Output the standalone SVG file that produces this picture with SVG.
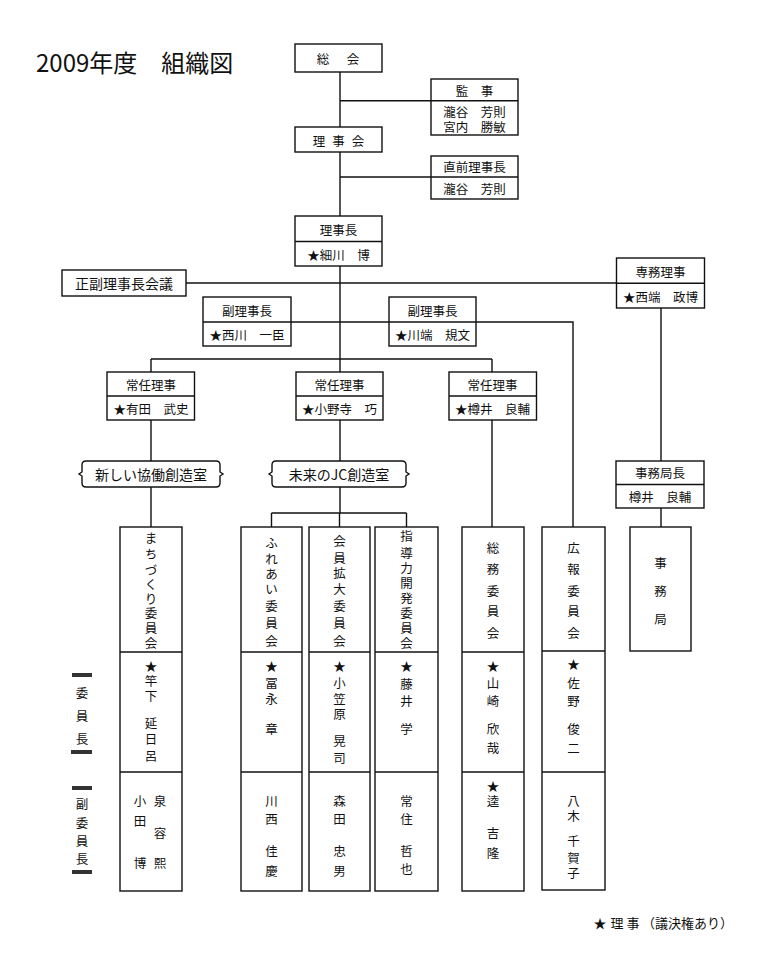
<svg xmlns="http://www.w3.org/2000/svg" width="767" height="980" viewBox="0 0 767 980">
<style>
text{font-family:"Noto Sans CJK JP","Noto Sans",sans-serif;fill:#111;text-anchor:middle;dominant-baseline:central}
.b{fill:#fff;stroke:#111;stroke-width:1.4}
.d{stroke:#111;stroke-width:1.4}
.c{stroke:#111;stroke-width:1.4;fill:none}
.t{font-size:12.5px}
.v{font-size:12.5px}
.r{font-size:14px}
.bar{fill:#333}
</style>
<rect width="767" height="980" fill="#fff"/>
<text x="36" y="61" style="font-size:24px;text-anchor:start">2009年度　組織図</text>

<g id="connectors" class="c">
<path d="M340 72V127M340 100.7H431M340 152V216M340 177H431M340 266V372"/>
<path d="M186 283H617"/>
<path d="M291 322H573V527"/>
<path d="M151 359H492M151 359V372M492 359V372"/>
<path d="M151 420V461M151 487V527"/>
<path d="M340 420V461M340 487V513M271.5 513H406.5M271.5 513V527M339.5 513V527M406.5 513V527"/>
<path d="M492 420V527"/>
<path d="M661 308V461M661 508V527"/>
</g>

<g id="soukai"><rect class="b" x="295" y="44" width="87" height="28"/><text class="t"><tspan x="323" y="58">総</tspan><tspan x="353" y="58">会</tspan></text></g>
<g id="kanji"><rect class="b" x="431" y="79" width="87" height="56"/><line class="d" x1="431" y1="100.7" x2="518" y2="100.7"/><text class="t" x="474.5" y="90">監　事</text><text class="t" x="474.5" y="111.5">瀧谷　芳則</text><text class="t" x="474.5" y="126">宮内　勝敏</text></g>
<g id="rijikai"><rect class="b" x="295" y="127" width="87" height="25"/><text class="t"><tspan x="319" y="140">理</tspan><tspan x="338.5" y="140">事</tspan><tspan x="358" y="140">会</tspan></text></g>
<g id="chokuzen"><rect class="b" x="431" y="156" width="87" height="43"/><line class="d" x1="431" y1="177" x2="518" y2="177"/><text class="t" x="474.5" y="166.5">直前理事長</text><text class="t" x="474.5" y="188">瀧谷　芳則</text></g>
<g id="rijicho"><rect class="b" x="295" y="216" width="87" height="50"/><line class="d" x1="295" y1="241.5" x2="382" y2="241.5"/><text class="t" x="338.5" y="229">理事長</text><text class="t" x="338.5" y="254">★細川　博</text></g>
<g id="seifuku"><rect class="b" x="62" y="270" width="124" height="26"/><text class="r" x="124" y="283">正副理事長会議</text></g>
<g id="senmu"><rect class="b" x="616.5" y="258" width="88" height="50"/><line class="d" x1="616.5" y1="283.3" x2="704.5" y2="283.3"/><text class="t" x="660.5" y="271">専務理事</text><text class="t" x="660.5" y="296">★西端　政博</text></g>
<g id="fuku1"><rect class="b" x="203" y="297" width="88" height="49"/><line class="d" x1="203" y1="322" x2="291" y2="322"/><text class="t" x="247" y="310">副理事長</text><text class="t" x="247" y="334">★西川　一臣</text></g>
<g id="fuku2"><rect class="b" x="389" y="297" width="87" height="49"/><line class="d" x1="389" y1="322" x2="476" y2="322"/><text class="t" x="432.5" y="310">副理事長</text><text class="t" x="432.5" y="334">★川端　規文</text></g>
<g id="jonin1"><rect class="b" x="107" y="372" width="87.5" height="48"/><line class="d" x1="107" y1="396" x2="194.5" y2="396"/><text class="t" x="151" y="384">常任理事</text><text class="t" x="151" y="408">★有田　武史</text></g>
<g id="jonin2"><rect class="b" x="296" y="372" width="87" height="48"/><line class="d" x1="296" y1="396" x2="383" y2="396"/><text class="t" x="339.5" y="384">常任理事</text><text class="t" x="339.5" y="408">★小野寺　巧</text></g>
<g id="jonin3"><rect class="b" x="449" y="372" width="87.5" height="48"/><line class="d" x1="449" y1="396" x2="536.5" y2="396"/><text class="t" x="492.5" y="384">常任理事</text><text class="t" x="492.5" y="408">★樽井　良輔</text></g>
<g id="room1"><path class="b" d="M86 461H216Q220 461 220 465V472L223 474L220 476V483Q220 487 216 487H86Q82 487 82 483V476L79 474L82 472V465Q82 461 86 461Z"/><text class="r" x="151" y="474">新しい協働創造室</text></g>
<g id="room2"><path class="b" d="M276 461H402Q406 461 406 465V472L409 474L406 476V483Q406 487 402 487H276Q272 487 272 483V476L269 474L272 472V465Q272 461 276 461Z"/><text class="r" x="339" y="474">未来のJC創造室</text></g>
<g id="jimukyokucho"><rect class="b" x="616" y="461" width="88" height="47"/><line class="d" x1="616" y1="484.5" x2="704" y2="484.5"/><text class="t" x="660" y="472.5">事務局長</text><text class="t" x="660" y="496">樽井　良輔</text></g>

<g id="machizukuri">
<rect class="b" x="120" y="527" width="62" height="364"/><line class="d" x1="120" y1="652" x2="182" y2="652"/><line class="d" x1="120" y1="772" x2="182" y2="772"/>
<text class="v"><tspan x="151" y="537">ま</tspan><tspan x="151" y="553">ち</tspan><tspan x="151" y="569">づ</tspan><tspan x="151" y="583">く</tspan><tspan x="151" y="598">り</tspan><tspan x="151" y="612">委</tspan><tspan x="151" y="627">員</tspan><tspan x="151" y="642">会</tspan></text>
<text class="v"><tspan x="151" y="665">★</tspan><tspan x="151" y="680">竿</tspan><tspan x="151" y="695">下</tspan><tspan x="151" y="722">延</tspan><tspan x="151" y="738">日</tspan><tspan x="151" y="755">呂</tspan></text>
<text class="v"><tspan x="160" y="800">泉</tspan><tspan x="160" y="832">容</tspan><tspan x="160" y="862">熙</tspan></text>
<text class="v"><tspan x="140" y="800">小</tspan><tspan x="140" y="820">田</tspan><tspan x="140" y="862">博</tspan></text>
</g>
<g id="fureai">
<rect class="b" x="241" y="527" width="61" height="364"/><line class="d" x1="241" y1="652" x2="302" y2="652"/><line class="d" x1="241" y1="772" x2="302" y2="772"/>
<text class="v"><tspan x="271.5" y="542">ふ</tspan><tspan x="271.5" y="558">れ</tspan><tspan x="271.5" y="573">あ</tspan><tspan x="271.5" y="588">い</tspan><tspan x="271.5" y="605">委</tspan><tspan x="271.5" y="622">員</tspan><tspan x="271.5" y="640">会</tspan></text>
<text class="v"><tspan x="271.5" y="665">★</tspan><tspan x="271.5" y="682">冨</tspan><tspan x="271.5" y="698">永</tspan><tspan x="271.5" y="728">章</tspan></text>
<text class="v"><tspan x="271.5" y="800">川</tspan><tspan x="271.5" y="818">西</tspan><tspan x="271.5" y="850">佳</tspan><tspan x="271.5" y="870">慶</tspan></text>
</g>
<g id="kaiin">
<rect class="b" x="309" y="527" width="61" height="364"/><line class="d" x1="309" y1="652" x2="370" y2="652"/><line class="d" x1="309" y1="772" x2="370" y2="772"/>
<text class="v"><tspan x="339.5" y="540">会</tspan><tspan x="339.5" y="557">員</tspan><tspan x="339.5" y="572">拡</tspan><tspan x="339.5" y="588">大</tspan><tspan x="339.5" y="605">委</tspan><tspan x="339.5" y="622">員</tspan><tspan x="339.5" y="640">会</tspan></text>
<text class="v"><tspan x="339.5" y="665">★</tspan><tspan x="339.5" y="682">小</tspan><tspan x="339.5" y="698">笠</tspan><tspan x="339.5" y="713">原</tspan><tspan x="339.5" y="740">晃</tspan><tspan x="339.5" y="757">司</tspan></text>
<text class="v"><tspan x="339.5" y="800">森</tspan><tspan x="339.5" y="818">田</tspan><tspan x="339.5" y="850">忠</tspan><tspan x="339.5" y="870">男</tspan></text>
</g>
<g id="shidoryoku">
<rect class="b" x="375" y="527" width="63" height="364"/><line class="d" x1="375" y1="652" x2="438" y2="652"/><line class="d" x1="375" y1="772" x2="438" y2="772"/>
<text class="v"><tspan x="406.5" y="535">指</tspan><tspan x="406.5" y="552">導</tspan><tspan x="406.5" y="567">力</tspan><tspan x="406.5" y="582">開</tspan><tspan x="406.5" y="597">発</tspan><tspan x="406.5" y="612">委</tspan><tspan x="406.5" y="627">員</tspan><tspan x="406.5" y="642">会</tspan></text>
<text class="v"><tspan x="406.5" y="665">★</tspan><tspan x="406.5" y="683">藤</tspan><tspan x="406.5" y="700">井</tspan><tspan x="406.5" y="728">学</tspan></text>
<text class="v"><tspan x="406.5" y="800">常</tspan><tspan x="406.5" y="818">住</tspan><tspan x="406.5" y="850">哲</tspan><tspan x="406.5" y="868">也</tspan></text>
</g>
<g id="somu">
<rect class="b" x="462" y="527" width="62" height="364"/><line class="d" x1="462" y1="652" x2="524" y2="652"/><line class="d" x1="462" y1="772" x2="524" y2="772"/>
<text class="v"><tspan x="493" y="547">総</tspan><tspan x="493" y="568">務</tspan><tspan x="493" y="590">委</tspan><tspan x="493" y="610">員</tspan><tspan x="493" y="632">会</tspan></text>
<text class="v"><tspan x="493" y="665">★</tspan><tspan x="493" y="682">山</tspan><tspan x="493" y="700">崎</tspan><tspan x="493" y="728">欣</tspan><tspan x="493" y="747">哉</tspan></text>
<text class="v"><tspan x="493" y="785">★</tspan><tspan x="493" y="800">逵</tspan><tspan x="493" y="832">吉</tspan><tspan x="493" y="852">隆</tspan></text>
</g>
<g id="koho">
<rect class="b" x="542" y="527" width="63" height="363"/><line class="d" x1="542" y1="651" x2="605" y2="651"/><line class="d" x1="542" y1="772" x2="605" y2="772"/>
<text class="v"><tspan x="573.5" y="547">広</tspan><tspan x="573.5" y="568">報</tspan><tspan x="573.5" y="590">委</tspan><tspan x="573.5" y="610">員</tspan><tspan x="573.5" y="632">会</tspan></text>
<text class="v"><tspan x="573.5" y="663">★</tspan><tspan x="573.5" y="682">佐</tspan><tspan x="573.5" y="700">野</tspan><tspan x="573.5" y="728">俊</tspan><tspan x="573.5" y="747">二</tspan></text>
<text class="v"><tspan x="573.5" y="800">八</tspan><tspan x="573.5" y="815">木</tspan><tspan x="573.5" y="840">千</tspan><tspan x="573.5" y="857">賀</tspan><tspan x="573.5" y="872">子</tspan></text>
</g>
<g id="jimukyoku">
<rect class="b" x="630" y="527" width="61" height="124"/>
<text class="v"><tspan x="660.5" y="562">事</tspan><tspan x="660.5" y="590">務</tspan><tspan x="660.5" y="618">局</tspan></text>
</g>

<g id="legend">
<rect class="bar" x="72" y="673" width="20" height="4"/>
<text class="v"><tspan x="82" y="692">委</tspan><tspan x="82" y="715">員</tspan><tspan x="82" y="738">長</tspan></text>
<rect class="bar" x="71" y="750" width="21" height="4"/>
<rect class="bar" x="72" y="786" width="20" height="4"/>
<text class="v"><tspan x="82" y="803">副</tspan><tspan x="82" y="822">委</tspan><tspan x="82" y="840">員</tspan><tspan x="82" y="858">長</tspan></text>
<rect class="bar" x="72" y="870" width="20" height="4"/>
</g>
<g id="note">
<text style="font-size:13px"><tspan x="600" y="922">★</tspan><tspan x="617" y="922">理</tspan><tspan x="633" y="922">事</tspan></text>
<text style="font-size:13px;text-anchor:start" x="642" y="922">（議決権あり）</text>
</g>
</svg>
